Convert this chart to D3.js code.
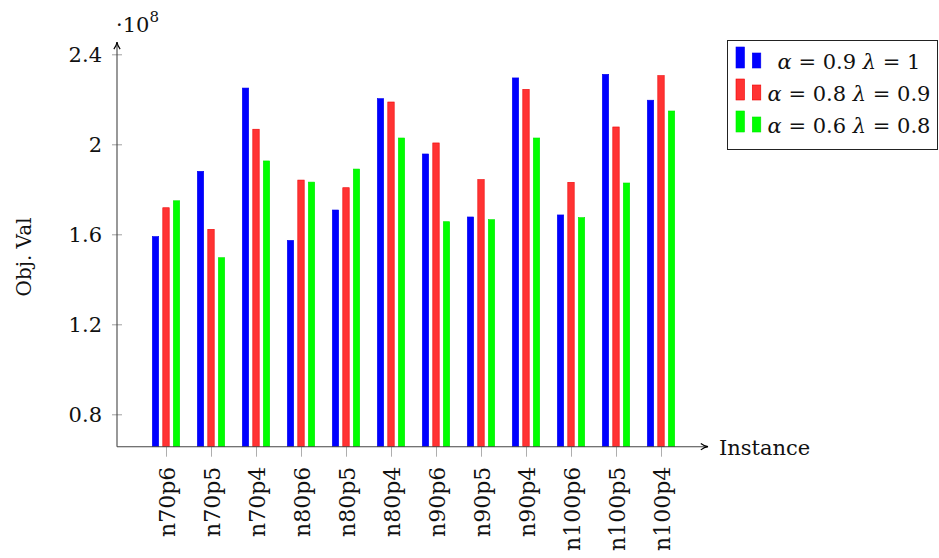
<!DOCTYPE html>
<html>
<head>
<meta charset="utf-8">
<script src="https://cdn.jsdelivr.net/npm/d3@7"></script>
<style>
  html, body { margin: 0; padding: 0; background: #fff; }
  svg text { font-family: "DejaVu Serif", serif; fill: #111; }
</style>
</head>
<body>
<svg id="chart" width="939" height="558"></svg>
<script>
// Instances on the x axis
const instances = ["n70p6","n70p5","n70p4","n80p6","n80p5","n80p4","n90p6","n90p5","n90p4","n100p6","n100p5","n100p4"];
// Objective values (×10^8) for each parameter setting
const seriesA = [1.59, 1.88, 2.25, 1.573, 1.708, 2.203, 1.957, 1.677, 2.295, 1.686, 2.311, 2.196];
const seriesB = [1.718, 1.622, 2.067, 1.841, 1.807, 2.188, 2.006, 1.843, 2.244, 1.831, 2.077, 2.305];
const seriesC = [1.749, 1.496, 1.926, 1.832, 1.890, 2.028, 1.656, 1.665, 2.028, 1.674, 1.828, 2.148];
// legend entries: [alpha, lambda]
const seriesParams = [["0.9", "1"], ["0.8", "0.9"], ["0.6", "0.8"]];
const seriesFill = ["#0000ff", "#ff3333", "#00ff00"];
const seriesStroke = ["#0000ee", "#ee0000", "#00e600"];
const yTicks = [0.8, 1.2, 1.6, 2.0, 2.4];
const yTickLabels = ["0.8", "1.2", "1.6", "2", "2.4"];

const svg = d3.select("#chart");

const x0 = 117, yBase = 446.7;
const y = d3.scaleLinear().domain([0.656, 2.4]).range([yBase, 54.3]);
const x = d3.scalePoint().domain(instances).range([166, 661]);
const offsets = [-10.5, 0, 10.5];
const barW = 6.4;

// bars
const series = [seriesA, seriesB, seriesC];
series.forEach((vals, si) => {
  svg.append("g").selectAll("rect").data(vals).join("rect")
    .attr("x", (d, i) => x(instances[i]) + offsets[si] - barW / 2)
    .attr("y", d => y(d))
    .attr("width", barW)
    .attr("height", d => yBase - y(d))
    .attr("fill", seriesFill[si])
    .attr("stroke", seriesStroke[si])
    .attr("stroke-width", 0.6);
});

// arrow marker
const defs = svg.append("defs");
defs.append("marker").attr("id", "arr").attr("viewBox", "0 0 10 10")
  .attr("refX", 9).attr("refY", 5).attr("markerWidth", 9).attr("markerHeight", 9)
  .attr("markerUnits", "userSpaceOnUse").attr("orient", "auto")
  .append("path").attr("d", "M1,1.5 Q5,4.5 9,5 Q5,5.5 1,8.5").attr("fill", "none")
  .attr("stroke", "#000").attr("stroke-width", 1.3);

// y axis
const yAxis = d3.axisLeft(y).tickValues(yTicks).tickFormat((d, i) => yTickLabels[i]).tickSize(0).tickPadding(15);
const gy = svg.append("g").attr("transform", `translate(${x0},0)`).call(yAxis);
gy.select(".domain").remove();
gy.selectAll("text").attr("font-size", 21).attr("font-family", "DejaVu Serif");
gy.selectAll(".tick").append("line").attr("x1", -5).attr("x2", 5).attr("stroke", "#888").attr("stroke-width", 0.8);
svg.append("line").attr("x1", x0).attr("x2", x0).attr("y1", yBase).attr("y2", 42)
  .attr("stroke", "#444").attr("stroke-width", 1.1).attr("marker-end", "url(#arr)");

// x axis
const xAxis = d3.axisBottom(x).tickSize(0).tickPadding(0);
const gx = svg.append("g").attr("transform", `translate(0,${yBase})`).call(xAxis);
gx.select(".domain").remove();
gx.selectAll(".tick").append("line").attr("y1", 0).attr("y2", 10).attr("stroke", "#999").attr("stroke-width", 0.8);
gx.selectAll("text")
  .attr("font-size", 22).attr("font-family", "DejaVu Serif")
  .attr("text-anchor", "end").attr("dy", null)
  .attr("transform", "translate(8,20) rotate(-90)");
svg.append("line").attr("x1", x0).attr("x2", 708).attr("y1", yBase).attr("y2", yBase)
  .attr("stroke", "#444").attr("stroke-width", 1.1).attr("marker-end", "url(#arr)");

// axis labels
svg.append("text").attr("x", 719).attr("y", 455).attr("font-size", 21).text("Instance");
svg.append("text").attr("transform", "translate(31,257) rotate(-90)").attr("text-anchor", "middle")
  .attr("font-size", 20).text("Obj. Val");
const sc = svg.append("text").attr("x", 116).attr("y", 32).attr("font-size", 21);
sc.append("tspan").text("·10");
sc.append("tspan").attr("font-size", 15).attr("dy", -10).text("8");

// legend
const lg = svg.append("g");
lg.append("rect").attr("x", 727.5).attr("y", 40.5).attr("width", 210).attr("height", 109)
  .attr("fill", "#fff").attr("stroke", "#222").attr("stroke-width", 1);
const rowBottom = [68, 100, 132];
seriesParams.forEach(([a, l], i) => {
  const by = rowBottom[i];
  lg.append("rect").attr("x", 736).attr("y", by - 21).attr("width", 8.5).attr("height", 21)
    .attr("fill", seriesFill[i]).attr("stroke", seriesStroke[i]).attr("stroke-width", 0.6);
  lg.append("rect").attr("x", 752.3).attr("y", by - 15).attr("width", 8.5).attr("height", 15)
    .attr("fill", seriesFill[i]).attr("stroke", seriesStroke[i]).attr("stroke-width", 0.6);
  const t = lg.append("text").attr("x", 849).attr("y", by + 1).attr("text-anchor", "middle")
    .attr("font-size", 21);
  t.append("tspan").attr("font-style", "italic").text("α");
  t.append("tspan").text(` = ${a} `);
  t.append("tspan").attr("font-style", "italic").text("λ");
  t.append("tspan").text(` = ${l}`);
});
</script>
</body>
</html>
